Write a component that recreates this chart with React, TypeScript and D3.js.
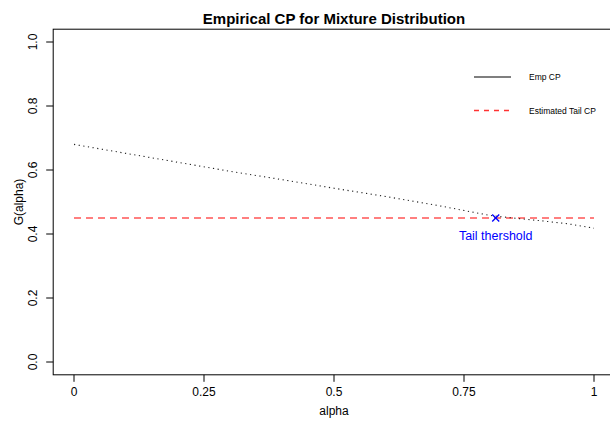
import React from "react";
import * as d3 from "d3";

const alphaVals = [0, 0.1, 0.2, 0.3, 0.4, 0.5, 0.6, 0.7, 0.8, 0.85, 0.9, 0.95, 1];
const empCP = [0.68, 0.652, 0.624, 0.596, 0.57, 0.543, 0.517, 0.489, 0.458, 0.449, 0.441, 0.432, 0.418];
const tailCP = 0.45;
const tailAlpha = 0.811;
const xTicks = [0, 0.25, 0.5, 0.75, 1];
const xTickLabels = ["0", "0.25", "0.5", "0.75", "1"];
const yTicks = [0, 0.2, 0.4, 0.6, 0.8, 1];

const W = 610;
const H = 422;
const font = "'Liberation Sans', Arial, Helvetica, sans-serif";

export default function App() {
  const x = d3.scaleLinear().domain([0, 1]).range([74, 594]);
  const y = d3.scaleLinear().domain([0, 1]).range([362, 42]);
  const [left, right] = [x(-0.04), x(1.04)];
  const [bottom, top] = [y(-0.04), y(1.04)];

  const line = d3
    .line<number>()
    .x((_d, i) => x(alphaVals[i]))
    .y((d) => y(d));

  return (
    <svg
      width={W}
      height={H}
      style={{ position: "absolute", left: 0, top: 0, background: "#fff" }}
      fontFamily={font}
    >
      <text x={(left + right) / 2} y={24} textAnchor="middle" fontSize={15} fontWeight="bold">
        Empirical CP for Mixture Distribution
      </text>

      {/* plot box */}
      <rect x={left} y={top} width={right - left} height={bottom - top} fill="none" stroke="#000" strokeWidth={1} />

      {/* x axis */}
      {xTicks.map((t, i) => (
        <g key={t}>
          <line x1={x(t)} x2={x(t)} y1={bottom} y2={bottom + 7} stroke="#000" />
          <text x={x(t)} y={396} textAnchor="middle" fontSize={12}>
            {xTickLabels[i]}
          </text>
        </g>
      ))}
      <text x={(left + right) / 2} y={415} textAnchor="middle" fontSize={12}>
        alpha
      </text>

      {/* y axis */}
      {yTicks.map((t) => (
        <g key={t}>
          <line x1={left - 7} x2={left} y1={y(t)} y2={y(t)} stroke="#000" />
          <text
            transform={`translate(37,${y(t)}) rotate(-90)`}
            textAnchor="middle"
            fontSize={12}
          >
            {t.toFixed(1)}
          </text>
        </g>
      ))}
      <text transform={`translate(23,${(top + bottom) / 2}) rotate(-90)`} textAnchor="middle" fontSize={12}>
        G(alpha)
      </text>

      {/* estimated tail CP */}
      <line
        x1={x(0)}
        x2={x(1)}
        y1={y(tailCP)}
        y2={y(tailCP)}
        stroke="#ff0000"
        strokeWidth={1.2}
        strokeDasharray="7,5"
      />

      {/* empirical CP */}
      <path d={line(empCP) ?? ""} fill="none" stroke="#222" strokeWidth={1.1} strokeDasharray="1.2,3.5" />

      {/* tail threshold */}
      <g stroke="#0000ff" strokeWidth={1.3}>
        <line x1={x(tailAlpha) - 3.5} x2={x(tailAlpha) + 3.5} y1={y(tailCP) - 3.5} y2={y(tailCP) + 3.5} />
        <line x1={x(tailAlpha) - 3.5} x2={x(tailAlpha) + 3.5} y1={y(tailCP) + 3.5} y2={y(tailCP) - 3.5} />
      </g>
      <text x={x(tailAlpha)} y={240} textAnchor="middle" fontSize={12.5} fill="#0000ff">
        Tail thershold
      </text>

      {/* legend */}
      <line x1={474} x2={511} y1={77} y2={77} stroke="#000" strokeWidth={1.2} />
      <text x={529} y={80} fontSize={8.5}>
        Emp CP
      </text>
      <line x1={474} x2={511} y1={110.5} y2={110.5} stroke="#ff0000" strokeWidth={1.3} strokeDasharray="5,5" opacity={0.8} />
      <text x={529} y={113.5} fontSize={8.5}>
        Estimated Tail CP
      </text>
    </svg>
  );
}
